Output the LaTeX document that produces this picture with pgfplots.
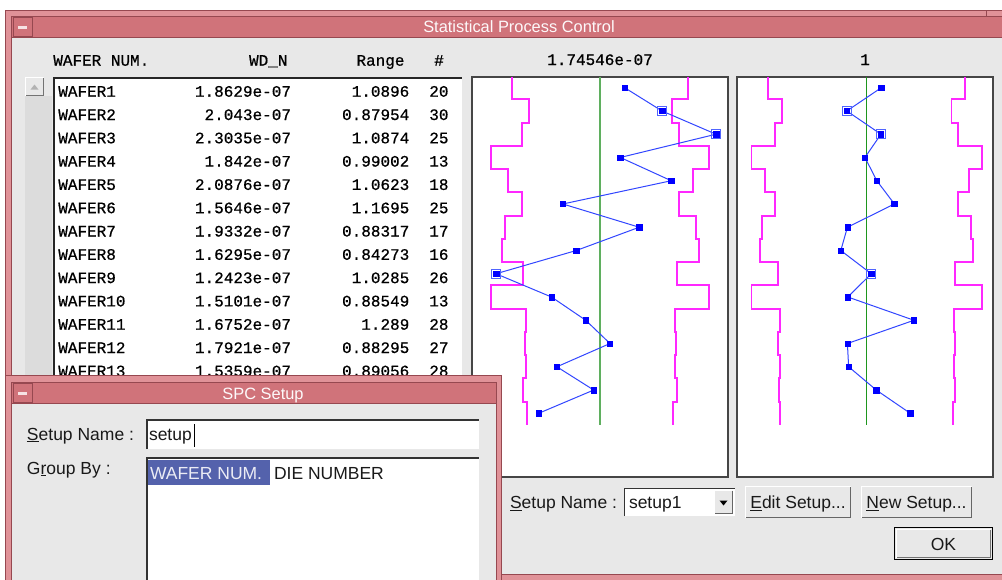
\documentclass[border=0pt]{standalone}
\usepackage{pgfplots}
\pgfplotsset{compat=1.18}
\usepackage{pgfplotstable}
\usepackage{fontspec}
\setmainfont{Liberation Sans}
\newfontfamily\mono[FakeBold=0.6]{Liberation Mono}
\definecolor{frame}{RGB}{224,146,152}
\definecolor{titlebar}{RGB}{208,115,122}
\definecolor{framedark}{RGB}{150,72,80}
\definecolor{bg}{RGB}{232,232,232}
\definecolor{trough}{RGB}{220,220,220}
\definecolor{hilite}{RGB}{84,98,172}
\definecolor{boxline}{RGB}{70,70,70}
\definecolor{ptline}{RGB}{50,70,255}
\definecolor{ptmark}{RGB}{0,0,255}
\definecolor{flag}{RGB}{80,100,255}
\definecolor{ctrL}{RGB}{95,175,95}
\definecolor{ctrR}{RGB}{30,150,30}
\definecolor{lim}{RGB}{255,40,255}
\newcommand\ui{\fontsize{17.5}{20}\selectfont}
\newcommand\ttl{\fontsize{16.4}{19}\selectfont}
\newcommand\mn{\mono\fontsize{16}{18}\selectfont}

% wafer index, WD_N (x 1e-7), Range
\pgfplotstableread{
row wd rng
1 1.8629 1.0896
2 2.0430 0.87954
3 2.3035 1.0874
4 1.8420 0.99002
5 2.0876 1.0623
6 1.5646 1.1695
7 1.9332 0.88317
8 1.6295 0.84273
9 1.2423 1.0285
10 1.5101 0.88549
11 1.6752 1.289
12 1.7921 0.88295
13 1.5359 0.89056
14 1.7136 1.059
15 1.4483 1.266
}\datatab
\pgfplotstableread{
row wd rng
2 2.0430 0.87954
3 2.3035 1.0874
9 1.2423 1.0285
}\flagtab

\pgfplotsset{spc/.style={anchor=north west, scale only axis, width=256pt, height=400pt,
  ymin=0.54, ymax=17.74, y dir=reverse, xtick=\empty, ytick=\empty,
  axis line style={boxline, line width=1.5pt}, axis background/.style={fill=white}}}

\begin{document}
\begin{tikzpicture}[x=1pt,y=-1pt, every node/.style={inner sep=0pt, outer sep=0pt}]
\path[use as bounding box] (0,0) rectangle (1002,579);
\clip (0,0) rectangle (1002,579);
\fill[white] (0,0) rectangle (1002,579);
% ---------- main window ----------
\fill[frame] (5,10) rectangle (1010,590);
\draw[framedark, line width=0.8pt] (5.4,600) -- (5.4,10.4) -- (1010,10.4);
\draw[framedark, line width=0.8pt] (11.6,575) -- (11.6,16.6) -- (1010,16.6);
\fill[titlebar] (12,17) rectangle (1010,37);
\draw[framedark, line width=1pt] (12,37.2) -- (1010,37.2);
\draw[framedark, line width=0.6pt] (986.5,10.5) -- (986.5,16.5);
\fill[bg] (12,37.8) rectangle (1010,574.5);
\draw[framedark, line width=0.8pt] (12,574.8) -- (1010,574.8);
\draw[framedark, line width=0.8pt] (13,17.5) rectangle (32,36.5);
\fill[white!80!titlebar] (18,25.5) rectangle (26.5,28.5);
\node[anchor=base, text=white!96!titlebar, font=\ttl] at (519,32) {Statistical Process Control};
% headers
\begin{scope}[font=\mn, text=black]
\node[anchor=base west] at (53.3,65.7) {WAFER NUM.};
\node[anchor=base east] at (287.5,65.7) {WD\_N};
\node[anchor=base east] at (404.5,65.7) {Range};
\node[anchor=base] at (439,65.7) {\#};
\node[anchor=base] at (600,65) {1.74546e-07};
\node[anchor=base] at (865,65) {1};
\end{scope}
% scrollbar
\fill[trough] (25,96) rectangle (52,390);
\fill[bg] (25,77) rectangle (44,96);
\draw[white, line width=1pt] (25.5,96) -- (25.5,77.5) -- (44,77.5);
\draw[black!55, line width=1pt] (43.5,77.5) -- (43.5,95.5) -- (25.5,95.5);
\fill[black!30] (30.5,89.5) -- (38.5,89.5) -- (34.5,84.5) -- cycle;
% list box
\fill[white] (53,77) rectangle (462,390);
\draw[black!85, line width=1.6pt] (53.8,390) -- (53.8,77.8) -- (462,77.8);
\begin{scope}[font=\mn, text=black]
\foreach \n/\w/\r/\c [count=\i] in {WAFER1/1.8629e-07/1.0896/20, WAFER2/2.043e-07/0.87954/30,
  WAFER3/2.3035e-07/1.0874/25, WAFER4/1.842e-07/0.99002/13, WAFER5/2.0876e-07/1.0623/18,
  WAFER6/1.5646e-07/1.1695/25, WAFER7/1.9332e-07/0.88317/17, WAFER8/1.6295e-07/0.84273/16,
  WAFER9/1.2423e-07/1.0285/26, WAFER10/1.5101e-07/0.88549/13, WAFER11/1.6752e-07/1.289/28,
  WAFER12/1.7921e-07/0.88295/27, WAFER13/1.5359e-07/0.89056/28}
{
  \pgfmathsetmacro\yy{96.7+23.3*(\i-1)}
  \node[anchor=base west] at (58.3,\yy) {\n};
  \node[anchor=base east] at (291,\yy) {\w};
  \node[anchor=base east] at (409.3,\yy) {\r};
  \node[anchor=base east] at (448.5,\yy) {\c};
}
\end{scope}
% ---------- left chart: WD_N ----------
\begin{axis}[spc, at={(472pt,-77pt)}, xmin=1.1265, xmax=2.3614]
\addplot[lim, line width=1.9pt] coordinates {
(1.3216,0.5)(1.3216,1.5)(1.3994,1.5)(1.3994,2.5)(1.3663,2.5)(1.3663,3.5)(1.2197,3.5)(1.2197,4.5)
(1.2987,4.5)(1.2987,5.5)(1.3663,5.5)(1.3663,6.5)(1.2857,6.5)(1.2857,7.5)(1.2715,7.5)(1.2715,8.5)
(1.3737,8.5)(1.3737,9.5)(1.2197,9.5)(1.2197,10.5)(1.3872,10.5)(1.3872,11.5)(1.3806,11.5)(1.3806,12.5)
(1.3872,12.5)(1.3872,13.5)(1.3737,13.5)(1.3737,14.5)(1.3935,14.5)(1.3935,15.5)};
\addplot[lim, line width=1.9pt] coordinates {
(2.1694,0.5)(2.1694,1.5)(2.0916,1.5)(2.0916,2.5)(2.1247,2.5)(2.1247,3.5)(2.2713,3.5)(2.2713,4.5)
(2.1923,4.5)(2.1923,5.5)(2.1247,5.5)(2.1247,6.5)(2.2053,6.5)(2.2053,7.5)(2.2195,7.5)(2.2195,8.5)
(2.1173,8.5)(2.1173,9.5)(2.2713,9.5)(2.2713,10.5)(2.1038,10.5)(2.1038,11.5)(2.1104,11.5)(2.1104,12.5)
(2.1038,12.5)(2.1038,13.5)(2.1173,13.5)(2.1173,14.5)(2.0975,14.5)(2.0975,15.5)};
\addplot[ctrL, line width=1.8pt] coordinates {(1.74546,0.5)(1.74546,15.5)};
\addplot[ptline, line width=1pt, mark=square*, mark size=2.7pt, mark options={ptmark, fill=ptmark, line width=0.4pt}] table[x=wd, y=row] {\datatab};
\addplot[only marks, mark=square, mark size=4.6pt, mark options={draw=flag, fill=blue!12, line width=1.1pt}] table[x=wd, y=row] {\flagtab};
\addplot[only marks, mark=square*, mark size=2.7pt, mark options={ptmark, fill=ptmark, line width=0.4pt}] table[x=wd, y=row] {\flagtab};
\end{axis}
% ---------- right chart: Range ----------
\begin{axis}[spc, at={(737pt,-77pt)}, xmin=0.2098, xmax=1.7708]
\addplot[lim, line width=1.9pt] coordinates {
(0.3994,0.5)(0.3994,1.5)(0.4826,1.5)(0.4826,2.5)(0.443,2.5)(0.443,3.5)(0.298,3.5)(0.298,4.5)
(0.378,4.5)(0.378,5.5)(0.443,5.5)(0.443,6.5)(0.363,6.5)(0.363,7.5)(0.350,7.5)(0.350,8.5)
(0.4585,8.5)(0.4585,9.5)(0.298,9.5)(0.298,10.5)(0.4695,10.5)(0.4695,11.5)(0.4625,11.5)(0.4625,12.5)
(0.4695,12.5)(0.4695,13.5)(0.4634,13.5)(0.4634,14.5)(0.4744,14.5)(0.4744,15.5)};
\addplot[lim, line width=1.9pt] coordinates {
(1.6006,0.5)(1.6006,1.5)(1.5174,1.5)(1.5174,2.5)(1.557,2.5)(1.557,3.5)(1.702,3.5)(1.702,4.5)
(1.622,4.5)(1.622,5.5)(1.557,5.5)(1.557,6.5)(1.637,6.5)(1.637,7.5)(1.650,7.5)(1.650,8.5)
(1.5415,8.5)(1.5415,9.5)(1.702,9.5)(1.702,10.5)(1.5305,10.5)(1.5305,11.5)(1.5375,11.5)(1.5375,12.5)
(1.5305,12.5)(1.5305,13.5)(1.5366,13.5)(1.5366,14.5)(1.5256,14.5)(1.5256,15.5)};
\addplot[ctrR, line width=1.5pt] coordinates {(1,0.5)(1,15.5)};
\addplot[ptline, line width=1pt, mark=square*, mark size=2.7pt, mark options={ptmark, fill=ptmark, line width=0.4pt}] table[x=rng, y=row] {\datatab};
\addplot[only marks, mark=square, mark size=4.6pt, mark options={draw=flag, fill=blue!12, line width=1.1pt}] table[x=rng, y=row] {\flagtab};
\addplot[only marks, mark=square*, mark size=2.7pt, mark options={ptmark, fill=ptmark, line width=0.4pt}] table[x=rng, y=row] {\flagtab};
\end{axis}
% ---------- bottom-right controls ----------
\begin{scope}[font=\ui, text=black!90]
\node[anchor=base west] at (510,508.3) {\underline{S}etup Name :};
\fill[white] (624,488) rectangle (735,516);
\draw[black!80, line width=1.5pt] (624.7,516) -- (624.7,488.7) -- (735,488.7);
\node[anchor=base west] at (629,508.3) {setup1};
\fill[bg] (714,490) rectangle (733,514);
\draw[white, line width=1pt] (714.5,514) -- (714.5,490.5) -- (733,490.5);
\draw[black!60, line width=1pt] (732.5,490.5) -- (732.5,513.5) -- (714.5,513.5);
\fill[black] (719.5,500.5) -- (727.5,500.5) -- (723.5,505.5) -- cycle;
% Edit Setup
\fill[bg] (745,486) rectangle (851,518);
\draw[white, line width=1.2pt] (745.6,518) -- (745.6,486.6) -- (851,486.6);
\draw[black!60, line width=1.2pt] (850.4,486.6) -- (850.4,517.4) -- (745.6,517.4);
\node[anchor=base] at (798,508.3) {\underline{E}dit Setup...};
% New Setup
\fill[bg] (861,486) rectangle (972,518);
\draw[white, line width=1.2pt] (861.6,518) -- (861.6,486.6) -- (972,486.6);
\draw[black!60, line width=1.2pt] (971.4,486.6) -- (971.4,517.4) -- (861.6,517.4);
\node[anchor=base] at (916.5,508.3) {\underline{N}ew Setup...};
% OK
\fill[bg] (894,527) rectangle (993,560);
\draw[black, line width=1.5pt] (894.7,527.7) rectangle (992.3,559.3);
\draw[white, line width=1pt] (896.5,558) -- (896.5,529.5) -- (991,529.5);
\draw[black!55, line width=1pt] (990.5,529.5) -- (990.5,557.5) -- (896.5,557.5);
\node[anchor=base] at (943.5,550) {OK};
\end{scope}
% ---------- SPC Setup window ----------
\fill[frame] (5,375) rectangle (502,600);
\draw[framedark, line width=0.8pt] (5.4,600) -- (5.4,375.4) -- (501.6,375.4) -- (501.6,600);
\draw[framedark, line width=0.8pt] (11.6,600) -- (11.6,382.6) -- (496.4,382.6) -- (496.4,600);
\fill[titlebar] (12,383) rectangle (496,403);
\draw[framedark, line width=1pt] (12,403.2) -- (496,403.2);
\draw[framedark, line width=0.8pt] (13,383.5) rectangle (32,402.5);
\fill[white!80!titlebar] (18,391.5) rectangle (26.5,394.5);
\node[anchor=base, text=white!96!titlebar, font=\ttl] at (263,399) {SPC Setup};
\fill[bg] (12,403.8) rectangle (496,600);
\begin{scope}[font=\ui, text=black!90]
\node[anchor=base west] at (27,440) {\underline{S}etup Name :};
\fill[white] (146,419) rectangle (479,449);
\draw[black!80, line width=1.6pt] (146.8,449) -- (146.8,419.8) -- (479,419.8);
\node[anchor=base west] at (149,440) {setup};
\draw[black, line width=1pt] (194,424) -- (194,447);
\node[anchor=base west] at (27,474) {G\underline{r}oup By :};
\fill[white] (146,457) rectangle (479,600);
\draw[black!80, line width=1.6pt] (146.8,600) -- (146.8,457.8) -- (479,457.8);
\fill[hilite] (147.6,459.5) rectangle (270,485);
\node[anchor=base west, text=white!88!hilite] at (150,479.3) {WAFER NUM.};
\node[anchor=base west] at (274,479.3) {DIE NUMBER};
\end{scope}
\end{tikzpicture}
\end{document}
